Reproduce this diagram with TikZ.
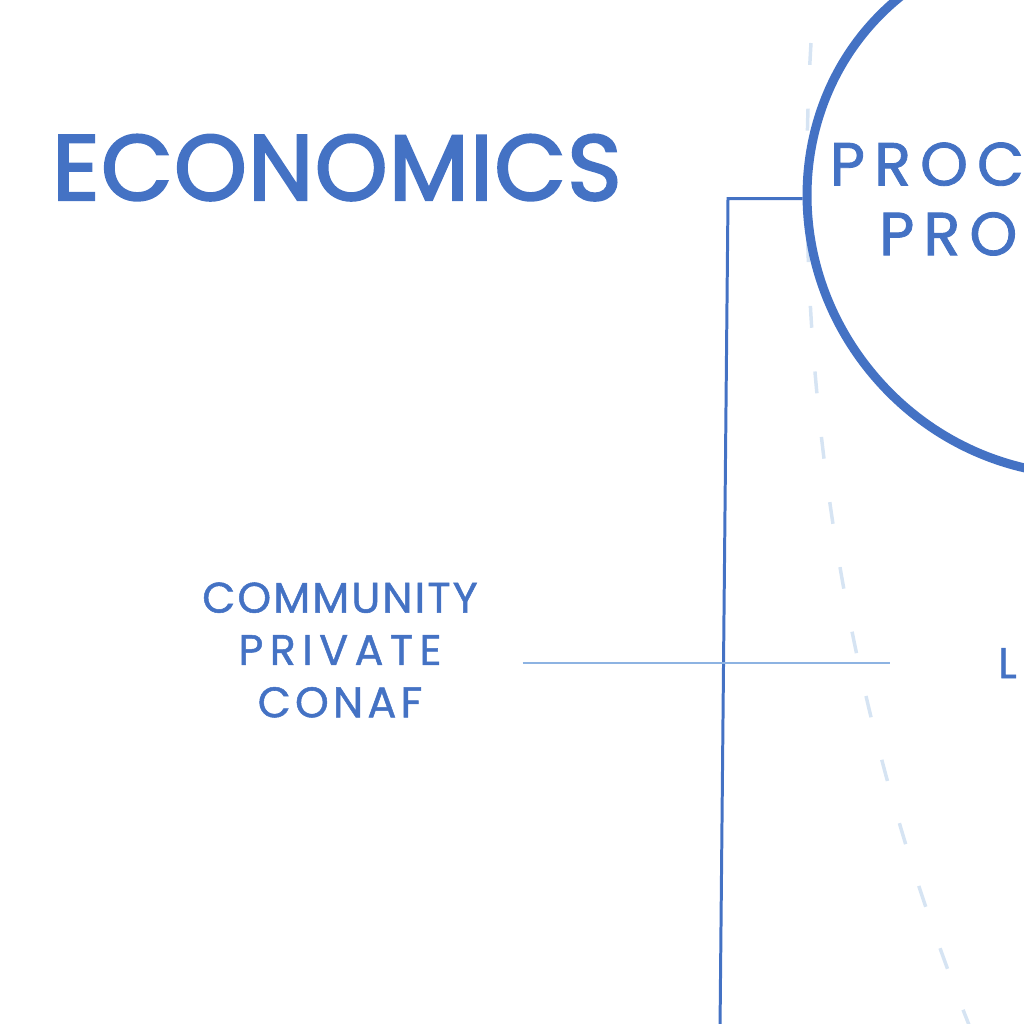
\documentclass[tikz,border=0pt]{standalone}
\usepackage{fontspec}
\setmainfont{Poppins}
\newfontfamily\headfont{Poppins}[FakeBold=2.5, LetterSpace=1.5]
\newfontfamily\tagfont{Poppins}[FakeBold=1.2, LetterSpace=5]
\newfontfamily\ringfont{Poppins}[FakeBold=1.4, LetterSpace=15]
\usetikzlibrary{shapes.geometric}
\definecolor{inkblue}{HTML}{4472C4}
\definecolor{paleblue}{HTML}{D6E4F3}
\definecolor{ruleblue}{HTML}{8DB3E2}
\tikzset{
  heading/.style={text=inkblue, inner sep=0pt, font=\headfont\fontsize{93}{100}\selectfont},
  smalltext/.style={text=inkblue, inner sep=0pt, font=\tagfont\fontsize{43}{52.5}\selectfont},
  ringtext/.style={text=inkblue, inner sep=0pt, font=\ringfont\fontsize{61}{70}\selectfont},
  ring/.style={draw=inkblue, line width=9, ellipse, inner sep=0pt,
    minimum width=546, minimum height=520, rotate=130},
  link/.style={draw=inkblue, line width=3},
  guide/.style={draw=paleblue, line width=3.5, dash pattern=on 22 off 44},
  thinrule/.style={draw=ruleblue, line width=1.2}
}
\begin{document}
\begin{tikzpicture}[x=1bp,y=-1bp]
  \useasboundingbox (0,0) rectangle (1024,1024);
  % pale dashed guide behind everything
  \draw[guide] (811,43) arc[start angle=183.44, end angle=150, radius=2282];
  \node[heading, anchor=base west] (econ) at (52,200) {ECONOMICS};
  \node[ring] (procring) at (1071.5,208) {};
  \node[ringtext, align=center] (proctext) at ([xshift=21.5, yshift=9]procring.center) {PROCUREMENT\\PRODUCERS};
  \node[smalltext, align=center] (owners) at (340,650)
    {COMMUNITY\\{\addfontfeature{LetterSpace=15}PRIVATE}\\{\addfontfeature{LetterSpace=10}CONAF}};
  \node[smalltext, anchor=base west] (local) at (998,678) {L};
  \coordinate (elbow) at (728,0);
  \coordinate (drop) at (720,1030);
  \draw[link] (procring.48) -- (procring.48 -| elbow) -- (drop);
  \draw[thinrule, shorten <=45, shorten >=108] (owners.east |- local.west) -- (local.west);
\end{tikzpicture}
\end{document}
